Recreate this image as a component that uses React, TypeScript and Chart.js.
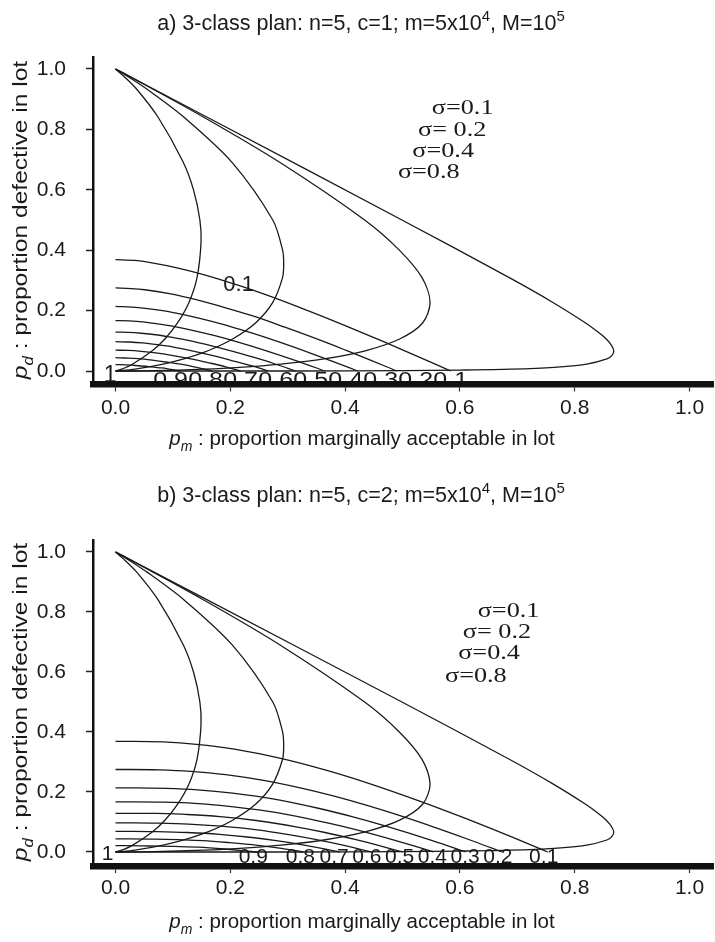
import React, { useEffect, useRef } from "react";
import { Chart, registerables } from "chart.js";

Chart.register(...registerables);

type XY = [number, number];
type Run = { t: string; italic?: boolean; sub?: boolean; sup?: boolean };

// ---------------- data ----------------
const X_TICKS = [0, 0.2, 0.4, 0.6, 0.8, 1.0];
const Y_TICKS = [0, 0.2, 0.4, 0.6, 0.8, 1.0];

// σ curves: [p_m, p_d]
const SIGMA_LABELS = ["σ=0.1", "σ= 0.2", "σ=0.4", "σ=0.8"];
const SIGMA_01: XY[] = [[0, 1], [0.159, 0.841], [0.499, 0.5], [0.686, 0.309], [0.762, 0.227], [0.819, 0.159], [0.84, 0.13], [0.855, 0.106], [0.864, 0.085], [0.868, 0.067], [0.865, 0.052], [0.856, 0.04], [0.821, 0.023], [0.764, 0.012], [0.689, 0.006], [0.6, 0.003], [0.503, 0.001], [0.312, 0], [0.161, 0], [0, 0]];
const SIGMA_02: XY[] = [[0, 1], [0.023, 0.977], [0.153, 0.841], [0.286, 0.691], [0.434, 0.5], [0.494, 0.401], [0.534, 0.309], [0.548, 0.227], [0.535, 0.159], [0.495, 0.106], [0.435, 0.067], [0.363, 0.04], [0.288, 0.023], [0.216, 0.012], [0.154, 0.006], [0.066, 0.001], [0.023, 0], [0, 0]];
const SIGMA_04: XY[] = [[0, 1], [0.02, 0.977], [0.055, 0.933], [0.119, 0.841], [0.203, 0.691], [0.274, 0.5], [0.291, 0.401], [0.293, 0.354], [0.291, 0.309], [0.274, 0.227], [0.244, 0.159], [0.204, 0.106], [0.161, 0.067], [0.119, 0.04], [0.083, 0.023], [0.034, 0.006], [0.011, 0.001], [0, 0]];
const SIGMA_08: XY[] = [[0, 1], [0.014, 0.977], [0.037, 0.933], [0.074, 0.841], [0.118, 0.691], [0.136, 0.599], [0.147, 0.5], [0.149, 0.425], [0.142, 0.309], [0.128, 0.227], [0.108, 0.159], [0.086, 0.106], [0.064, 0.067], [0.03, 0.023], [0.011, 0.006], [0, 0]];

// acceptance-probability contours
const ACCEPT_LEVELS = ["0.1", "0.2", "0.3", "0.4", "0.5", "0.6", "0.7", "0.8", "0.9"];

// panel a: c = 1
const C1_P10: XY[] = [[0, 0.369], [0.034, 0.366], [0.061, 0.359], [0.109, 0.341], [0.158, 0.317], [0.22, 0.28], [0.264, 0.251], [0.316, 0.214], [0.355, 0.185], [0.398, 0.152], [0.446, 0.114], [0.472, 0.093], [0.499, 0.071], [0.528, 0.047], [0.559, 0.021], [0.584, 0]];
const C1_P20: XY[] = [[0, 0.275], [0.027, 0.273], [0.051, 0.269], [0.094, 0.256], [0.147, 0.233], [0.189, 0.211], [0.238, 0.183], [0.295, 0.145], [0.362, 0.098], [0.401, 0.069], [0.443, 0.037], [0.49, 0]];
const C1_P30: XY[] = [[0, 0.214], [0.04, 0.21], [0.079, 0.201], [0.11, 0.19], [0.145, 0.175], [0.184, 0.156], [0.23, 0.13], [0.282, 0.098], [0.343, 0.057], [0.377, 0.033], [0.422, 0]];
const C1_P40: XY[] = [[0, 0.167], [0.024, 0.166], [0.047, 0.163], [0.074, 0.156], [0.103, 0.147], [0.136, 0.134], [0.173, 0.117], [0.215, 0.095], [0.263, 0.067], [0.318, 0.032], [0.365, 0]];
const C1_P50: XY[] = [[0, 0.129], [0.022, 0.128], [0.045, 0.125], [0.07, 0.12], [0.099, 0.111], [0.131, 0.1], [0.166, 0.084], [0.206, 0.064], [0.252, 0.039], [0.277, 0.024], [0.314, 0]];
const C1_P60: XY[] = [[0, 0.097], [0.024, 0.096], [0.047, 0.093], [0.073, 0.087], [0.101, 0.079], [0.133, 0.067], [0.168, 0.052], [0.208, 0.032], [0.241, 0.015], [0.266, 0]];
const C1_P70: XY[] = [[0, 0.069], [0.022, 0.068], [0.045, 0.065], [0.07, 0.06], [0.098, 0.052], [0.129, 0.041], [0.163, 0.027], [0.192, 0.014], [0.218, 0]];
const C1_P80: XY[] = [[0, 0.044], [0.017, 0.043], [0.039, 0.041], [0.064, 0.036], [0.091, 0.029], [0.121, 0.02], [0.145, 0.01], [0.169, 0]];
const C1_P90: XY[] = [[0, 0.021], [0.009, 0.021], [0.031, 0.019], [0.055, 0.015], [0.081, 0.01], [0.094, 0.006], [0.112, 0]];

// panel b: c = 2
const C2_P10: XY[] = [[0, 0.369], [0.031, 0.369], [0.083, 0.367], [0.141, 0.359], [0.207, 0.343], [0.288, 0.312], [0.368, 0.272], [0.441, 0.229], [0.531, 0.169], [0.603, 0.117], [0.688, 0.052], [0.736, 0.014], [0.753, 0]];
const C2_P20: XY[] = [[0, 0.275], [0.025, 0.275], [0.076, 0.274], [0.131, 0.269], [0.192, 0.258], [0.263, 0.237], [0.348, 0.202], [0.408, 0.172], [0.478, 0.132], [0.561, 0.079], [0.625, 0.035], [0.673, 0]];
const C2_P30: XY[] = [[0, 0.214], [0.036, 0.214], [0.088, 0.212], [0.143, 0.207], [0.204, 0.196], [0.274, 0.177], [0.355, 0.145], [0.412, 0.118], [0.477, 0.083], [0.552, 0.038], [0.61, 0]];
const C2_P40: XY[] = [[0, 0.167], [0.033, 0.167], [0.084, 0.166], [0.138, 0.162], [0.198, 0.152], [0.264, 0.136], [0.341, 0.109], [0.394, 0.086], [0.453, 0.057], [0.52, 0.02], [0.554, 0]];
const C2_P50: XY[] = [[0, 0.129], [0.031, 0.129], [0.071, 0.129], [0.125, 0.125], [0.182, 0.118], [0.245, 0.105], [0.317, 0.083], [0.365, 0.065], [0.419, 0.041], [0.458, 0.022], [0.5, 0]];
const C2_P60: XY[] = [[0, 0.097], [0.033, 0.097], [0.074, 0.096], [0.127, 0.093], [0.184, 0.086], [0.247, 0.074], [0.302, 0.058], [0.348, 0.042], [0.398, 0.022], [0.446, 0]];
const C2_P70: XY[] = [[0, 0.069], [0.031, 0.069], [0.072, 0.068], [0.125, 0.065], [0.181, 0.059], [0.23, 0.05], [0.283, 0.037], [0.326, 0.024], [0.357, 0.013], [0.39, 0]];
const C2_P80: XY[] = [[0, 0.044], [0.026, 0.044], [0.067, 0.043], [0.109, 0.041], [0.152, 0.038], [0.199, 0.031], [0.248, 0.022], [0.289, 0.012], [0.327, 0]];
const C2_P90: XY[] = [[0, 0.021], [0.019, 0.021], [0.06, 0.02], [0.101, 0.019], [0.144, 0.016], [0.19, 0.01], [0.226, 0.004], [0.247, 0]];

// label anchors (data units)
const LABEL_X_A = [0.584, 0.523, 0.462, 0.401, 0.34, 0.279, 0.218, 0.157, 0.096];
const LABEL_X_B = [0.746, 0.666, 0.609, 0.552, 0.495, 0.438, 0.381, 0.322, 0.24];
const SIGMA_AT_A: XY[] = [[0.551, 0.868], [0.527, 0.795], [0.517, 0.725], [0.492, 0.656]];
const SIGMA_AT_B: XY[] = [[0.631, 0.8], [0.605, 0.73], [0.597, 0.66], [0.574, 0.583]];
const INLINE_A: XY = [0.2145, 0.285];

// ---------------- styling ----------------
const SANS = "'Liberation Sans', Arial, Helvetica, sans-serif";
const SERIF = "'Liberation Serif', 'Times New Roman', serif";
const INK = "#1a1a1a";

interface PanelSpec {
  title: Run[];
  yMin: number;
  yMax: number;
  padTop: number;
  xAxisHeight: number;
  xTickPad: number;
  contours: XY[][];
  labelX: number[];
  labelSize: number;
  labelStretch: number;
  labelDy: number;
  oneSize: number;
  oneDx: number;
  oneDy: number;
  sigmaAt: XY[];
  inline?: XY;
  titleBase: number;
  xTitleBase: number;
}

const X_TITLE: Run[] = [
  { t: "p", italic: true },
  { t: "m", italic: true, sub: true },
  { t: " : proportion marginally acceptable in lot" },
];
const Y_TITLE: Run[] = [
  { t: "p", italic: true },
  { t: "d", italic: true, sub: true },
  { t: " : proportion defective in lot" },
];

const PANEL_A: PanelSpec = {
  title: [{ t: "a) 3-class plan: n=5, c=1; m=5x10" }, { t: "4", sup: true }, { t: ", M=10" }, { t: "5", sup: true }],
  yMin: -0.0447,
  yMax: 1.0397,
  padTop: 57,
  xAxisHeight: 86.5,
  xTickPad: 4,
  contours: [C1_P10, C1_P20, C1_P30, C1_P40, C1_P50, C1_P60, C1_P70, C1_P80, C1_P90],
  labelX: LABEL_X_A,
  labelSize: 20,
  labelStretch: 1.25,
  labelDy: 15,
  oneSize: 23,
  oneDx: 1,
  oneDy: 11,
  sigmaAt: SIGMA_AT_A,
  inline: INLINE_A,
  titleBase: 30,
  xTitleBase: 445,
};

const PANEL_B: PanelSpec = {
  title: [{ t: "b) 3-class plan: n=5, c=2; m=5x10" }, { t: "4", sup: true }, { t: ", M=10" }, { t: "5", sup: true }],
  yMin: -0.0467,
  yMax: 1.04,
  padTop: 69,
  xAxisHeight: 76,
  xTickPad: 3,
  contours: [C2_P10, C2_P20, C2_P30, C2_P40, C2_P50, C2_P60, C2_P70, C2_P80, C2_P90],
  labelX: LABEL_X_B,
  labelSize: 21,
  labelStretch: 1,
  labelDy: 11,
  oneSize: 21,
  oneDx: -2,
  oneDy: 8,
  sigmaAt: SIGMA_AT_B,
  titleBase: 31,
  xTitleBase: 457,
};

function runFont(r: Run, size: number, family: string) {
  const s = r.sub || r.sup ? Math.round(size * 0.68) : size;
  return `${r.italic ? "italic " : ""}${s}px ${family}`;
}

function drawRuns(ctx: CanvasRenderingContext2D, runs: Run[], cx: number, base: number, size: number, family: string) {
  let total = 0;
  for (const r of runs) {
    ctx.font = runFont(r, size, family);
    total += ctx.measureText(r.t).width;
  }
  let x = cx - total / 2;
  ctx.textAlign = "left";
  ctx.textBaseline = "alphabetic";
  for (const r of runs) {
    ctx.font = runFont(r, size, family);
    const dy = r.sub ? size * 0.3 : r.sup ? -size * 0.42 : 0;
    ctx.fillText(r.t, x, base + dy);
    x += ctx.measureText(r.t).width;
  }
}

function annotations(spec: PanelSpec) {
  return {
    id: "annotations",
    beforeDraw(chart: any) {
      const ctx: CanvasRenderingContext2D = chart.ctx;
      const xs = chart.scales.x;
      const ys = chart.scales.y;
      const y0 = ys.getPixelForValue(0);
      ctx.save();
      ctx.fillStyle = INK;
      ctx.textBaseline = "alphabetic";
      ctx.textAlign = "center";
      ctx.font = `${spec.labelSize}px ${SANS}`;
      ACCEPT_LEVELS.forEach((lab, i) => {
        const cx = xs.getPixelForValue(spec.labelX[i]);
        ctx.save();
        ctx.translate(cx, y0 + spec.labelDy);
        ctx.scale(spec.labelStretch, 1);
        ctx.fillText(lab, 0, 0);
        ctx.restore();
      });
      ctx.textAlign = "right";
      ctx.font = `${spec.oneSize}px ${SANS}`;
      ctx.fillText("1", xs.getPixelForValue(0) + spec.oneDx, y0 + spec.oneDy);
      ctx.restore();
    },
    afterDraw(chart: any) {
      const ctx: CanvasRenderingContext2D = chart.ctx;
      const xs = chart.scales.x;
      const ys = chart.scales.y;
      ctx.save();
      ctx.fillStyle = INK;
      // title
      drawRuns(ctx, spec.title, 361, spec.titleBase, 21.5, SANS);
      // x-axis title
      drawRuns(ctx, X_TITLE, 362, spec.xTitleBase, 20.5, SANS);
      // y-axis title (rotated, slightly stretched along its length)
      ctx.save();
      ctx.translate(27, ys.getPixelForValue(0.5));
      ctx.rotate(-Math.PI / 2);
      ctx.scale(1.2, 1);
      drawRuns(ctx, Y_TITLE, 0, 0, 20.5, SANS);
      ctx.restore();
      // sigma labels
      ctx.textAlign = "left";
      ctx.textBaseline = "middle";
      ctx.font = `20.5px ${SERIF}`;
      SIGMA_LABELS.forEach((lab, i) => {
        const [vx, vy] = spec.sigmaAt[i];
        ctx.save();
        ctx.translate(xs.getPixelForValue(vx), ys.getPixelForValue(vy));
        ctx.scale(1.28, 1);
        ctx.fillText(lab, 0, 0);
        ctx.restore();
      });
      // inline contour label
      if (spec.inline) {
        ctx.textAlign = "center";
        ctx.textBaseline = "middle";
        ctx.font = `22px ${SANS}`;
        ctx.fillText("0.1", xs.getPixelForValue(spec.inline[0]), ys.getPixelForValue(spec.inline[1]));
      }
      ctx.restore();
    },
  };
}

function toPts(arr: XY[]) {
  return arr.map(([x, y]) => ({ x, y }));
}

function makeConfig(spec: PanelSpec): any {
  const sigmaSets = [SIGMA_01, SIGMA_02, SIGMA_04, SIGMA_08].map((c, i) => ({
    label: SIGMA_LABELS[i],
    data: toPts(c),
    showLine: true,
    borderColor: INK,
    borderWidth: 1.3,
    pointRadius: 0,
    tension: 0.3,
    fill: false,
  }));
  const contourSets = spec.contours.map((c, i) => ({
    label: "P=" + ACCEPT_LEVELS[i],
    data: toPts(c),
    showLine: true,
    borderColor: INK,
    borderWidth: 1.3,
    pointRadius: 0,
    cubicInterpolationMode: "monotone",
    fill: false,
  }));
  const tickFont = { family: SANS, size: 21 };
  return {
    type: "scatter",
    data: { datasets: [...sigmaSets, ...contourSets] },
    options: {
      animation: false,
      responsive: false,
      maintainAspectRatio: false,
      devicePixelRatio: 1,
      events: [],
      layout: { padding: { top: spec.padTop, left: 0, right: 2, bottom: 0 } },
      plugins: { legend: { display: false }, tooltip: { enabled: false }, title: { display: false } },
      scales: {
        x: {
          type: "linear",
          position: "bottom",
          min: -0.0392,
          max: 1.0409,
          afterBuildTicks: (s: any) => {
            s.ticks = X_TICKS.map((v) => ({ value: v }));
          },
          afterFit: (s: any) => {
            s.height = spec.xAxisHeight;
          },
          grid: { display: true, drawOnChartArea: false, drawTicks: true, tickLength: 7, tickWidth: 1.2, tickColor: "#333" },
          border: { display: true, width: 6.5, color: "#111" },
          ticks: {
            font: tickFont,
            color: INK,
            padding: spec.xTickPad,
            autoSkip: false,
            maxRotation: 0,
            callback: (v: any) => Number(v).toFixed(1),
          },
        },
        y: {
          type: "linear",
          position: "left",
          min: spec.yMin,
          max: spec.yMax,
          afterBuildTicks: (s: any) => {
            s.ticks = Y_TICKS.map((v) => ({ value: v }));
          },
          afterFit: (s: any) => {
            s.width = 93;
          },
          grid: { display: true, drawOnChartArea: false, drawTicks: true, tickLength: 7, tickWidth: 1.5, tickColor: "#222" },
          border: { display: true, width: 2.5, color: "#111" },
          ticks: {
            font: tickFont,
            color: INK,
            padding: 20,
            autoSkip: false,
            callback: (v: any) => Number(v).toFixed(1),
          },
        },
      },
    },
    plugins: [annotations(spec)],
  };
}

function Panel({ spec, top }: { spec: PanelSpec; top: number }) {
  const ref = useRef<HTMLCanvasElement>(null);
  useEffect(() => {
    if (!ref.current) return;
    const chart = new Chart(ref.current, makeConfig(spec));
    return () => chart.destroy();
  }, [spec]);
  return (
    <canvas
      ref={ref}
      width={715}
      height={471}
      style={{ position: "absolute", left: 0, top, width: 715, height: 471, display: "block" }}
    />
  );
}

export default function App() {
  return (
    <div style={{ position: "absolute", left: 0, top: 0, width: 715, height: 942, background: "#fff", overflow: "hidden" }}>
      <Panel spec={PANEL_A} top={0} />
      <Panel spec={PANEL_B} top={471} />
    </div>
  );
}
